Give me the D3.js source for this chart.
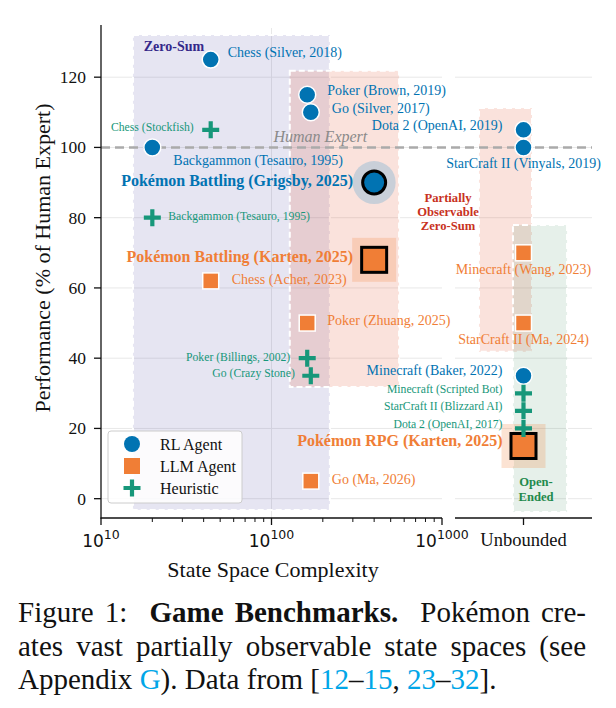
<!DOCTYPE html>
<html><head><meta charset="utf-8">
<script src="https://cdn.jsdelivr.net/npm/d3@7"></script>
<style>
body{margin:0;background:#fff;}
#cap{position:absolute;left:18px;top:596px;width:568px;font-family:"Liberation Serif","Times New Roman",serif;font-size:29px;line-height:33.5px;color:#111;}
#cap div{white-space:nowrap;}
#cap div.j{text-align:justify;text-align-last:justify;}
#cap span.l{color:#00a6e8;}
</style></head><body>
<svg id="chart" width="616" height="592" style="position:absolute;left:0;top:0"></svg>
<div id="cap">
<div class="j">Figure 1: &nbsp;<b>Game Benchmarks.</b> &nbsp;Pokémon cre-</div>
<div class="j">ates vast partially observable state spaces (see</div>
<div>Appendix <span class="l">G</span>). Data from [<span class="l">12</span>–<span class="l">15</span>, <span class="l">23</span>–<span class="l">32</span>].</div>
</div>
<script>
// ---------------- DATA ----------------
const rlNames = ["Chess (Silver, 2018)","Poker (Brown, 2019)","Go (Silver, 2017)","Backgammon (Tesauro, 1995)","Pokémon Battling (Grigsby, 2025)","Dota 2 (OpenAI, 2019)","StarCraft II (Vinyals, 2019)","Minecraft (Baker, 2022)"];
const rlComplexity = [44,162,170,20,400,"Unbounded","Unbounded","Unbounded"];
const rlPerformance = [125,115,110,100,90,105,100,35];

const llmNames = ["Pokémon Battling (Karten, 2025)","Chess (Acher, 2023)","Poker (Zhuang, 2025)","Go (Ma, 2026)","Minecraft (Wang, 2023)","StarCraft II (Ma, 2024)","Pokémon RPG (Karten, 2025)"];
const llmComplexity = [400,44,162,170,"Unbounded","Unbounded","Unbounded"];
const llmPerformance = [68,62,50,5,70,50,15];

const heurNames = ["Chess (Stockfish)","Backgammon (Tesauro, 1995)","Poker (Billings, 2002)","Go (Crazy Stone)","Minecraft (Scripted Bot)","StarCraft II (Blizzard AI)","Dota 2 (OpenAI, 2017)"];
const heurComplexity = [44,20,162,170,"Unbounded","Unbounded","Unbounded"];
const heurPerformance = [105,80,40,35,30,25,20];

const highlighted = ["Pokémon Battling (Grigsby, 2025)","Pokémon Battling (Karten, 2025)","Pokémon RPG (Karten, 2025)"];

const yTicks = [0,20,40,60,80,100,120];
const xTickExponents = [10,100,1000];
const humanExpert = 100;
const legendLabels = ["RL Agent","LLM Agent","Heuristic"];

// region bounds (exponent / unbounded-panel units, performance)
const zeroSumRegion = {x:[15.4,220], y:[-3.2,132]};
const partialRegionL = {x:[128,560], y:[31.8,121.8]};
const partialRegionR = {x:[0.175,0.562], y:[41.8,111.2]};
const openRegionR = {x:[0.423,0.818], y:[-3.8,77.9]};

// ---------------- LAYOUT ----------------
const C = {blue:"#0173B2", orange:"#F07E36", teal:"#17977A"};
const labelLayout = {
 "Chess (Silver, 2018)":[17,-7,"start"],
 "Poker (Brown, 2019)":[20,-4,"start"],
 "Go (Silver, 2017)":[21,-4,"start"],
 "Backgammon (Tesauro, 1995)|rl":[21,13,"start"],
 "Pokémon Battling (Grigsby, 2025)":[-21,-2,"end"],
 "Dota 2 (OpenAI, 2019)":[-21,-4,"end"],
 "StarCraft II (Vinyals, 2019)":[0,16,"middle"],
 "Minecraft (Baker, 2022)":[-21,-5,"end"],
 "Pokémon Battling (Karten, 2025)":[-21,-3,"end"],
 "Chess (Acher, 2023)":[21,-1,"start"],
 "Poker (Zhuang, 2025)":[20,-3,"start"],
 "Go (Ma, 2026)":[21,-2,"start"],
 "Minecraft (Wang, 2023)":[0,17,"middle"],
 "StarCraft II (Ma, 2024)":[0,16,"middle"],
 "Pokémon RPG (Karten, 2025)":[-21,-5,"end"],
 "Chess (Stockfish)":[-17,-2,"end"],
 "Backgammon (Tesauro, 1995)|h":[16,-1,"start"],
 "Poker (Billings, 2002)":[-17,-1,"end"],
 "Go (Crazy Stone)":[-16,-2,"end"],
 "Minecraft (Scripted Bot)":[-21,-4,"end"],
 "StarCraft II (Blizzard AI)":[-21,-4,"end"],
 "Dota 2 (OpenAI, 2017)":[-21,-4,"end"]
};

const svg = d3.select("#chart");
const serif = "Liberation Serif";
const sans = "DejaVu Sans";

const x = d3.scaleLog().domain([10,1000]).range([101,442]);
const xr = d3.scaleLinear().domain([0,1]).range([455,592]);
const y = d3.scaleLinear().domain([-5.5,134]).range([518,28]);
const px = v => v === "Unbounded" ? xr(0.5) : x(v);

// grid
const g = svg.append("g");
g.selectAll("line.hy").data(yTicks).join("line")
 .attr("x1",101).attr("x2",442).attr("y1",d=>y(d)).attr("y2",d=>y(d))
 .attr("stroke","#e8e8e8").attr("stroke-width",1);
g.selectAll("line.hyr").data(yTicks).join("line")
 .attr("x1",455).attr("x2",592).attr("y1",d=>y(d)).attr("y2",d=>y(d))
 .attr("stroke","#e8e8e8").attr("stroke-width",1);
g.selectAll("line.vx").data(xTickExponents.slice(1,2)).join("line")
 .attr("x1",d=>x(d)).attr("x2",d=>x(d)).attr("y1",28).attr("y2",518)
 .attr("stroke","#e8e8e8").attr("stroke-width",1);

// regions
function region(r, sx, fill){
  svg.append("rect")
   .attr("x",sx(r.x[0])).attr("width",sx(r.x[1])-sx(r.x[0]))
   .attr("y",y(r.y[1])).attr("height",y(r.y[0])-y(r.y[1]))
   .attr("fill",fill).attr("stroke","#fff").attr("stroke-width",2)
   .attr("stroke-dasharray","6,3");
}
region(zeroSumRegion, x, "rgba(90,80,170,0.15)");
region(partialRegionL, x, "rgba(230,110,80,0.2)");
region(partialRegionR, xr, "rgba(230,110,80,0.2)");
region(openRegionR, xr, "rgba(60,140,90,0.13)");

// human expert line
svg.append("line").attr("x1",101).attr("x2",592).attr("y1",y(humanExpert)).attr("y2",y(humanExpert))
 .attr("stroke","#aaaaaa").attr("stroke-width",2.6).attr("stroke-dasharray","9,5");
svg.append("text").attr("x",x(100)+2).attr("y",y(humanExpert)-11).attr("dominant-baseline","central")
 .attr("font-family",serif).attr("font-style","italic").attr("font-size",16).attr("fill","#8a8a8a").text("Human Expert");

// region labels
function multi(lines, cx, cy0, lh, color, size){
  lines.forEach((t,i)=>svg.append("text").attr("x",cx).attr("y",cy0+i*lh).attr("text-anchor","middle")
   .attr("dominant-baseline","central").attr("font-family",serif).attr("font-weight","bold")
   .attr("font-size",size).attr("fill",color).text(t));
}
multi(["Zero-Sum"],174,46,0,"#35288a",14);
multi(["Partially","Observable","Zero-Sum"],448,198,14,"#c8321e",12.6);
multi(["Open-","Ended"],536,482,14.5,"#1f8a4c",12.6);

// build points
const pts = [];
rlNames.forEach((n,i)=>pts.push({n, key: n.startsWith("Backgammon")? n+"|rl": n, t:"rl", x:px(rlComplexity[i]), y:y(rlPerformance[i])}));
llmNames.forEach((n,i)=>pts.push({n, key:n, t:"llm", x:px(llmComplexity[i]), y:y(llmPerformance[i])}));
heurNames.forEach((n,i)=>pts.push({n, key: n.startsWith("Backgammon")? n+"|h": n, t:"h", x:px(heurComplexity[i]), y:y(heurPerformance[i])}));

// highlight backgrounds
pts.filter(p=>highlighted.includes(p.n)).forEach(p=>{
  if(p.t==="rl") svg.append("circle").attr("cx",p.x).attr("cy",p.y).attr("r",21.5).attr("fill","#c9cfd8");
  else svg.append("rect").attr("x",p.x-22).attr("y",p.y-22).attr("width",44).attr("height",44).attr("fill","rgba(240,126,54,0.22)");
});

function plus(sel, cx, cy, s, w){
  sel.append("path").attr("d",`M${cx-s},${cy}H${cx+s}M${cx},${cy-s}V${cy+s}`)
   .attr("stroke",C.teal).attr("stroke-width",w).attr("fill","none");
}
// markers
pts.forEach(p=>{
  const hl = highlighted.includes(p.n);
  if(p.t==="rl"){
    svg.append("circle").attr("cx",p.x).attr("cy",p.y).attr("r",hl?11.5:8.5)
     .attr("fill",C.blue).attr("stroke",hl?"#000":"#fff").attr("stroke-width",hl?3:1.5);
  } else if(p.t==="llm"){
    const s = hl?25:16;
    svg.append("rect").attr("x",p.x-s/2).attr("y",p.y-s/2).attr("width",s).attr("height",s)
     .attr("fill",C.orange).attr("stroke",hl?"#000":"#fff").attr("stroke-width",hl?3:1.5);
  } else {
    plus(svg, p.x, p.y, 8.5, 4.2);
  }
});

// labels
pts.forEach(p=>{
  const L = labelLayout[p.key];
  const hl = highlighted.includes(p.n);
  const col = p.t==="rl"?C.blue:p.t==="llm"?C.orange:C.teal;
  svg.append("text").attr("x",p.x+L[0]).attr("y",p.y+L[1]).attr("text-anchor",L[2])
   .attr("dominant-baseline","central").attr("font-family",serif)
   .attr("font-size", hl?16:(p.t==="h"?11.7:14)).attr("font-weight",hl?"bold":"normal")
   .attr("fill",col).text(p.n);
});

// legend
const lg = svg.append("g");
lg.append("rect").attr("x",108).attr("y",431).attr("width",134).attr("height",72).attr("rx",3)
 .attr("fill","rgba(255,255,255,0.85)").attr("stroke","#cccccc").attr("stroke-width",1);
legendLabels.forEach((t,i)=>{
  const cy = 444+i*22, cx=132;
  if(i===0) lg.append("circle").attr("cx",cx).attr("cy",cy).attr("r",8).attr("fill",C.blue);
  else if(i===1) lg.append("rect").attr("x",cx-8).attr("y",cy-8).attr("width",16).attr("height",16).attr("fill",C.orange);
  else plus(lg,cx,cy,8.5,4.2);
  lg.append("text").attr("x",160).attr("y",cy).attr("dominant-baseline","central").attr("font-family",serif)
   .attr("font-size",16).attr("fill","#111").text(t);
});

// axes
const ax = svg.append("g").attr("stroke","#111");
ax.append("line").attr("x1",101).attr("x2",101).attr("y1",25).attr("y2",518.5).attr("stroke-width",1.3);
ax.append("line").attr("x1",100.5).attr("x2",442).attr("y1",518).attr("y2",518).attr("stroke-width",1.3);
ax.append("line").attr("x1",455).attr("x2",592).attr("y1",518).attr("y2",518).attr("stroke-width",1.3);
yTicks.forEach(v=>{
  ax.append("line").attr("x1",94).attr("x2",101).attr("y1",y(v)).attr("y2",y(v)).attr("stroke-width",1.3);
  svg.append("text").attr("x",86).attr("y",y(v)).attr("text-anchor","end").attr("dominant-baseline","central")
   .attr("font-family",serif).attr("font-size",17.5).attr("fill","#111").text(v);
});
const minor = [];
[10,100].forEach(b=>{for(let k=2;k<=9;k++) minor.push(b*k);});
minor.forEach(v=>ax.append("line").attr("x1",x(v)).attr("x2",x(v)).attr("y1",518).attr("y2",522).attr("stroke-width",1));
xTickExponents.forEach(v=>{
  ax.append("line").attr("x1",x(v)).attr("x2",x(v)).attr("y1",518).attr("y2",525).attr("stroke-width",1.3);
  const t = svg.append("text").attr("x",x(v)).attr("y",547).attr("text-anchor","middle")
   .attr("font-family",sans).attr("font-size",17).attr("fill","#111");
  t.append("tspan").text("10");
  t.append("tspan").attr("dy",-8).attr("font-size",12.5).text(v);
});
ax.append("line").attr("x1",xr(0.5)).attr("x2",xr(0.5)).attr("y1",518).attr("y2",525).attr("stroke-width",1.3);
svg.append("text").attr("x",xr(0.5)).attr("y",540).attr("text-anchor","middle").attr("dominant-baseline","central")
 .attr("font-family",serif).attr("font-size",18.5).attr("fill","#111").text("Unbounded");

svg.append("text").attr("x",273).attr("y",569).attr("text-anchor","middle").attr("dominant-baseline","central")
 .attr("font-family",serif).attr("font-size",22).attr("fill","#111").text("State Space Complexity");
svg.append("text").attr("transform","translate(42,258) rotate(-90)").attr("text-anchor","middle")
 .attr("dominant-baseline","central").attr("font-family",serif).attr("font-size",22).attr("fill","#111")
 .text("Performance (% of Human Expert)");
</script>
</body></html>
